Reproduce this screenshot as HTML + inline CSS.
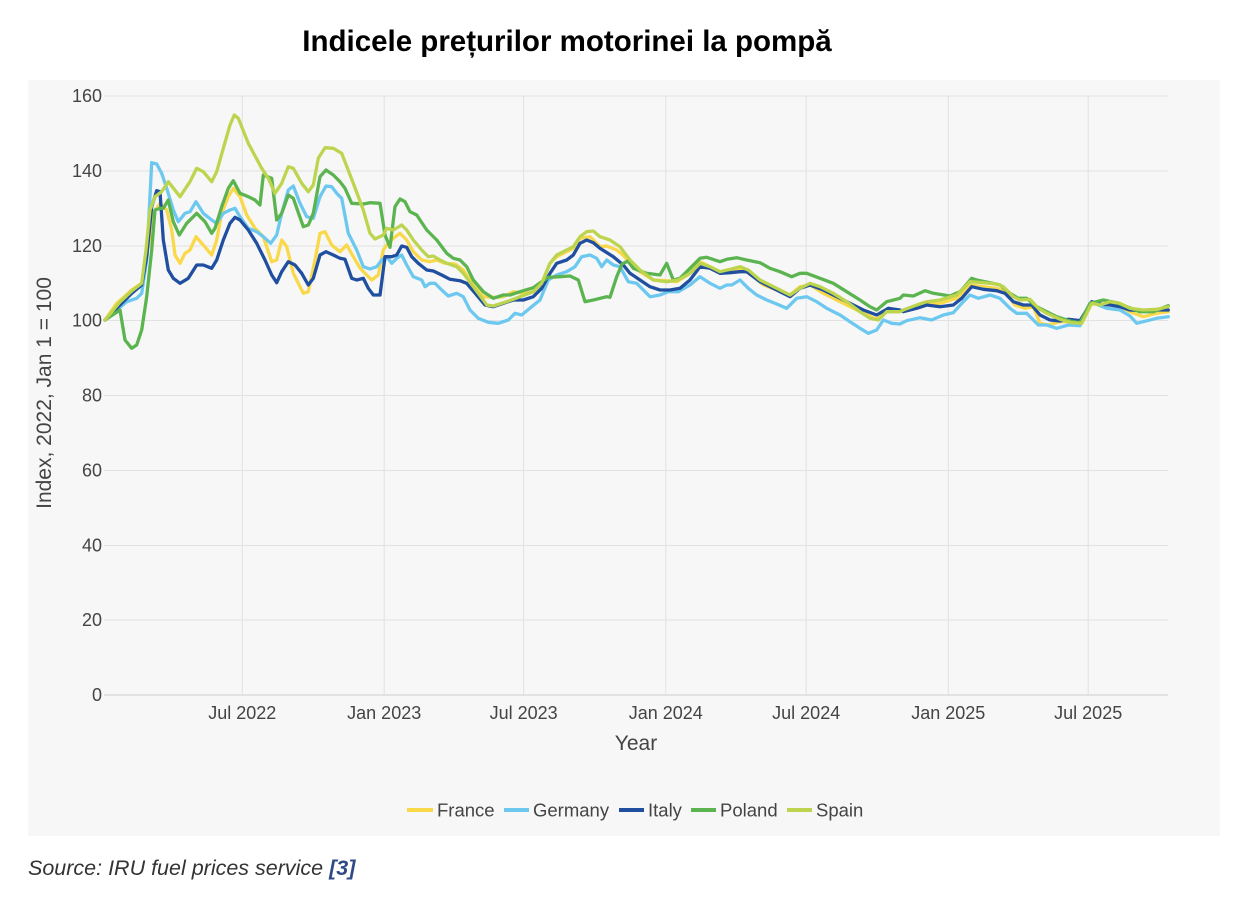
<!DOCTYPE html>
<html>
<head>
<meta charset="utf-8">
<style>
html,body{margin:0;padding:0;background:#fff;}
body{width:1250px;height:900px;position:relative;overflow:hidden;font-family:"Liberation Sans",Arial,sans-serif;}
svg{position:absolute;left:0;top:0;}
</style>
</head>
<body>
<svg width="1250" height="900" viewBox="0 0 1250 900" xmlns="http://www.w3.org/2000/svg">
  <rect x="0" y="0" width="1250" height="900" fill="#ffffff"/>
  <text x="567" y="51" text-anchor="middle" font-family="Liberation Sans, Arial, sans-serif" font-weight="bold" font-size="29.5" fill="#000">Indicele prețurilor motorinei la pompă</text>
  <rect x="28" y="80" width="1192" height="756" fill="#f7f7f7"/>
  <!-- horizontal gridlines -->
  <g stroke="#e2e2e2" stroke-width="1">
    <line x1="104" y1="96" x2="1168" y2="96"/>
    <line x1="104" y1="171" x2="1168" y2="171"/>
    <line x1="104" y1="246" x2="1168" y2="246"/>
    <line x1="104" y1="320.5" x2="1168" y2="320.5"/>
    <line x1="104" y1="395.5" x2="1168" y2="395.5"/>
    <line x1="104" y1="470.5" x2="1168" y2="470.5"/>
    <line x1="104" y1="545.5" x2="1168" y2="545.5"/>
    <line x1="104" y1="620" x2="1168" y2="620"/>
    <line x1="242.3" y1="96" x2="242.3" y2="695"/>
    <line x1="384.2" y1="96" x2="384.2" y2="695"/>
    <line x1="523.6" y1="96" x2="523.6" y2="695"/>
    <line x1="665.8" y1="96" x2="665.8" y2="695"/>
    <line x1="806.2" y1="96" x2="806.2" y2="695"/>
    <line x1="948.3" y1="96" x2="948.3" y2="695"/>
    <line x1="1088.2" y1="96" x2="1088.2" y2="695"/>
  </g>
  <line x1="104" y1="695" x2="1168" y2="695" stroke="#dcdcdc" stroke-width="1.5"/>
  <!-- y tick labels -->
  <g font-family="Liberation Sans, Arial, sans-serif" font-size="18" fill="#444" text-anchor="end">
    <text x="102" y="102">160</text>
    <text x="102" y="177">140</text>
    <text x="102" y="252">120</text>
    <text x="102" y="326.5">100</text>
    <text x="102" y="401.5">80</text>
    <text x="102" y="476.5">60</text>
    <text x="102" y="551.5">40</text>
    <text x="102" y="626">20</text>
    <text x="102" y="701">0</text>
  </g>
  <!-- x tick labels -->
  <g font-family="Liberation Sans, Arial, sans-serif" font-size="18" fill="#444" text-anchor="middle">
    <text x="242.3" y="719">Jul 2022</text>
    <text x="384.2" y="719">Jan 2023</text>
    <text x="523.6" y="719">Jul 2023</text>
    <text x="665.8" y="719">Jan 2024</text>
    <text x="806.2" y="719">Jul 2024</text>
    <text x="948.3" y="719">Jan 2025</text>
    <text x="1088.2" y="719">Jul 2025</text>
  </g>
  <text x="636" y="750" text-anchor="middle" font-family="Liberation Sans, Arial, sans-serif" font-size="21" fill="#444">Year</text>
  <text transform="translate(51,393) rotate(-90)" text-anchor="middle" font-family="Liberation Sans, Arial, sans-serif" font-size="21" fill="#444">Index, 2022, Jan 1 = 100</text>

  <g fill="none" stroke-width="3.3" stroke-linejoin="round" stroke-linecap="round">
    <polyline stroke="#f9d84a" points="105,320 116.7,303.3 131.7,290 141.7,283.3 148.3,246.7 153.3,213.3 160,203.3 166.7,210 171.7,230 175,255 180,263.3 185,253.3 190,250 196,236.7 203.3,245 211.7,255 216.7,240 221.7,213.3 228.3,196.7 233.3,188.3 240,196.7 246.7,215 255,228.3 263.3,236.7 271.7,261.7 276.7,260 281.7,240 286.7,246.7 293.3,273.3 303.3,293.3 308.3,291.7 315,260 320,233.3 325,231.7 331.7,245 340,251.7 346.7,245 353.3,256.7 360,268 366.7,275 371.7,280 378.3,275 383.3,250 386.7,245 393.3,238.3 400,233.3 406.7,240 413.3,251.7 421.7,260 430,261.7 436.7,260 445,263.3 455,264 463.3,270 473.3,285 483.3,296.7 493.3,297.3 503.3,296.7 513.3,291.7 523.3,293.3 533.3,291.7 541.7,283.3 550,263.3 556.7,256.7 566.7,251.7 573.3,248.3 580,238.3 590,236.7 600,246.7 606.7,246 616.7,250 623,255 630,263.3 640,271.7 653.3,280 666.7,280.7 676.7,281.7 690,273.3 700,261.7 710,266.7 720,271.7 730,270 740,269.3 750,273.3 763.3,285 776.7,290 790,295 800,286.7 810,285 823.3,293.3 836.7,300 850,306.7 863.3,313.3 876.7,319.3 886.7,311.7 900,311.7 906.7,310 923.3,305 940,303.3 956.7,298.3 970,285 983.3,286.7 996.7,288.3 1005,291.7 1015,305 1025,308.3 1033.3,306.7 1040,323.3 1048.3,325 1060,321.7 1070,321.7 1081.7,323.3 1091.7,303.3 1100,305 1113.3,303.3 1130,311.7 1143.3,316.7 1156.7,313.3 1168.3,311.7"/>
    <polyline stroke="#6dc8f0" points="105,320 116.7,310 126.7,301.7 136.7,298.3 141.7,293.3 146.7,260 151.7,162.7 156.7,164 161.7,173.3 166.7,188.3 173.3,210 178.3,221.7 185,213.3 190,211.7 196,201.7 203.3,213.3 211.7,220 216.7,223.3 223.3,213.3 230,210 235,208.3 240,216.7 248.3,228.3 256.7,231.7 263.3,236.7 270.7,243.3 276.7,235 281.7,213.3 288.3,190 293.3,186 300,203.3 306.7,216.7 313.3,218.3 320,196.7 326,186 331.7,186.7 336.7,193.3 341.7,198.3 348.3,233.3 356.7,250 363.3,266.7 370,269 376.7,266.7 381.7,260 386.7,256.7 391.7,263.3 396.7,258.3 401.7,255 406.7,265 413.3,276.7 421.7,280 425,286.7 430,283.3 435,283.3 441.7,290 448.3,296 456.7,293.3 463.3,296.7 470,310 478.3,318.3 488.3,322.3 498.3,323.3 508.3,320 515,313.3 521.7,315 531.7,306.7 540,300 548.3,280 556.7,275 566.7,271.7 575,266.7 581.7,256.7 590,255 596.7,258.3 601.7,266.7 606.7,260 613.3,265 620,266.7 628.3,281.7 636.7,283.3 650,296.7 660,295 668.3,291.7 678.3,291.7 690,285 700,276.7 710,283.3 720,288.3 726.7,285 731.7,285 740,280 748.3,288.3 756.7,295 766.7,300 776.7,304 786.7,308.3 796.7,298.3 806.7,296.7 816.7,301.7 826.7,308.3 840,315 850,321.7 860,328.3 868.3,333.3 876.7,330 883.3,320 891.7,323.3 900,324 906.7,320.7 920,317.7 931.7,320 943.3,315 953.3,312.7 963.3,301.7 970,295 978.3,298.3 990,295 1000,298.3 1010,308.3 1016.7,313.3 1026.7,313.3 1038.3,325 1046.7,325 1056.7,328.3 1068.3,325 1080,325.7 1091.7,301.7 1098.3,305 1106.7,308.3 1120,310 1130,316 1136.7,323.3 1143.3,321.7 1156.7,318.3 1168.3,316.7"/>
    <polyline stroke="#204fa0" points="105,320 120,305 131.7,293.3 141.7,285 146.7,256.7 151.7,206.7 156.7,190.7 160,191.7 163.3,240 168.3,270 173.3,278.3 180,283.3 188.3,278.3 196.7,265 203.3,265 211.7,268.3 216.7,260 223.3,240 230,223.3 235,217.3 240,220 248.3,230 256.7,243.3 265,260 271.7,275 276.7,282.7 281.7,271.7 288.3,261.7 295,265 301.7,273.3 308.3,285 313.3,278.3 320,255 326,251.7 333.3,255 340,258.3 345,259.3 351.7,278.3 356.7,280 363.3,278.3 368.3,288.3 373.3,295 380,295 385,256.7 391.7,256.7 396.7,255 401.7,246 406.7,247.3 411.7,256.7 418.3,263.3 426.7,270 433.3,271 441.7,275 450,279.3 460,280.7 466.7,283.3 476.7,295 485,305 493.3,306.7 503.3,303.3 513.3,300 523.3,300 533.3,296.7 541.7,288.3 550,273.3 556.7,263.3 566.7,260 573.3,255 580,243.3 586.7,240 593.3,242.7 600,248.3 613.3,256.7 623.3,265 630,273.3 640,280 650,286.7 660,290 670,290 680,288.3 690,280 700,266.7 710,268.3 720,273.3 730,272.7 740,271.7 746.7,271.7 760,281.7 776.7,290 790,296.7 800,288.3 810,285 823.3,290 836.7,296.7 850,303.3 863.3,310 876.7,315 888.3,308.3 900,310 903.3,311.7 916.7,308.3 926.7,305 940,306.7 953.3,305 961.7,298.3 971.7,286.7 983.3,289.3 996.7,290.7 1005,293.3 1013.3,301.7 1023.3,305 1031.7,305 1040,315 1050,320 1060,321 1068.3,319.3 1080,320.7 1091.7,301.7 1098.3,304 1110,305 1120,306.7 1130,310 1143.3,310.7 1156.7,310 1168.3,310"/>
    <polyline stroke="#5bb450" points="105,320 120,310 125,340 131.7,348.3 136.7,345 141.7,330 146.7,296.7 151.7,250 155,210 160,208.3 163.3,208.3 168.3,200 173.3,221.7 179.3,235 186.7,223.3 196.7,213.3 205,221.7 211.7,233.3 215,228.3 221.7,206.7 228.3,188.3 233.3,180.7 240,193.3 248.3,196.7 255,200 260,205 263.3,175 271.7,178.3 276.7,220 281.7,213.3 288.3,195 293.3,198.3 303.3,226.7 308.3,225 313.3,213.3 320,176.7 326,170 333.3,175 340,181.7 345,188.3 351.7,203.3 363.3,204 370,202.7 380,203.3 385,235 390,247.3 395,206.7 400,199 405,201.7 410,211.7 416.7,215 426.7,230 436.7,240 446.7,253.3 453.3,258.3 460,260 466.7,266.7 473.3,280 483.3,291.7 493.3,298.3 503.3,295 510,295 520,291.7 533.3,287.7 541.7,281.7 548.3,277.3 560,276.7 570,276 578.3,280 585,301.7 593.3,300 606.7,296.7 610,297.3 616.7,276.7 622,264 628,261 633.3,268.3 646.7,273.3 660,275 666.7,263.3 673.3,280 680,278.3 690,268.3 700,258.3 706.7,257.3 720,261.7 726.7,259.3 736.7,257.7 746.7,260 760,262.7 770,268.3 780,271.7 791.7,276.7 800,273.3 806.7,273.3 820,278.3 833.3,283.3 846.7,291.7 860,300 870,306.7 876.7,310 886.7,301.7 900,298.3 903.3,295 913.3,296 925,290.7 933.3,293.3 950,296 960,291.7 971.7,278.3 976.7,280 990,282.7 1000,285 1010,293.3 1018.3,298.3 1026.7,298.3 1036.7,306.7 1046.7,311.7 1056.7,316.7 1070,321 1080,322.7 1090,303.3 1103.3,300 1116.7,302.7 1126.7,306.7 1140,311.7 1153.3,311.7 1168.3,305.7"/>
    <polyline stroke="#bdd44f" points="105,320 120,302 131.7,291 141.7,283.3 146,250 150,210 155,196.7 161.7,191.7 168.3,181.7 180,196.7 190,181.7 196.7,168.3 203.3,171.7 211.7,181.7 216.7,171.7 223.3,148.3 230,125 234.3,115 238.3,118.3 248.3,143.3 261.7,168.3 268.3,178.3 275,193.3 281.7,183.3 288.3,166.7 293.3,168.3 301.7,183.3 308.3,191.7 313.3,185 318.3,158.3 325,147.7 333.3,148.3 341.7,153.3 353.3,183.3 363.3,210 370,233.3 375,239 383.3,235 386.7,228.3 393.3,230 401.7,225 406.7,230 413.3,240 421.7,250 428.3,256.7 433.3,256 440,260 446.7,263.3 456.7,266.7 463.3,273.3 473.3,286.7 483.3,300 486.7,305 493.3,306 506.7,301.7 520,296.7 533.3,291.7 541.7,283.3 550,263.3 556.7,255 566.7,250 573.3,246.7 580,236.7 586.7,231.7 593.3,231 600,236.7 610,240 620,246.7 630,260 640,270 653.3,280 666.7,281.7 678.3,280 690,273.3 700,263.3 710,266.7 720,271.7 730,269.3 740,266.7 748.3,270 760,280 776.7,288.3 790,295 800,288.3 810,283.3 820,286.7 833.3,293.3 846.7,301.7 860,311.7 870,318.3 878.3,320 886.7,311.7 900,311.7 903.3,310 916.7,305 926.7,301.7 940,300 956.7,295 970,281.7 983.3,282.7 996.7,284 1003.3,286.7 1013.3,296.7 1020,300 1030,299.3 1038.3,308.3 1046.7,313.3 1060,319.3 1071.7,322.7 1081.7,323.3 1091.7,303.3 1100,305 1110,301.7 1120,303.3 1130,308.3 1143.3,310 1156.7,309.3 1168.3,306.7"/>
  </g>

  <!-- legend -->
  <g stroke-width="4">
    <line x1="407" y1="810" x2="433" y2="810" stroke="#f9d84a"/>
    <line x1="504" y1="810" x2="529" y2="810" stroke="#6dc8f0"/>
    <line x1="619" y1="810" x2="644" y2="810" stroke="#204fa0"/>
    <line x1="691" y1="810" x2="716" y2="810" stroke="#5bb450"/>
    <line x1="787" y1="810" x2="812" y2="810" stroke="#bdd44f"/>
  </g>
  <g font-family="Liberation Sans, Arial, sans-serif" font-size="18.5" fill="#444">
    <text x="437" y="816.5">France</text>
    <text x="533" y="816.5">Germany</text>
    <text x="648" y="816.5">Italy</text>
    <text x="720" y="816.5">Poland</text>
    <text x="816" y="816.5">Spain</text>
  </g>

  <text x="28" y="875" font-family="Liberation Sans, Arial, sans-serif" font-style="italic" font-size="21.5" fill="#333">Source: IRU fuel prices service <tspan font-weight="bold" fill="#2f4b86">[3]</tspan></text>
</svg>
</body>
</html>
